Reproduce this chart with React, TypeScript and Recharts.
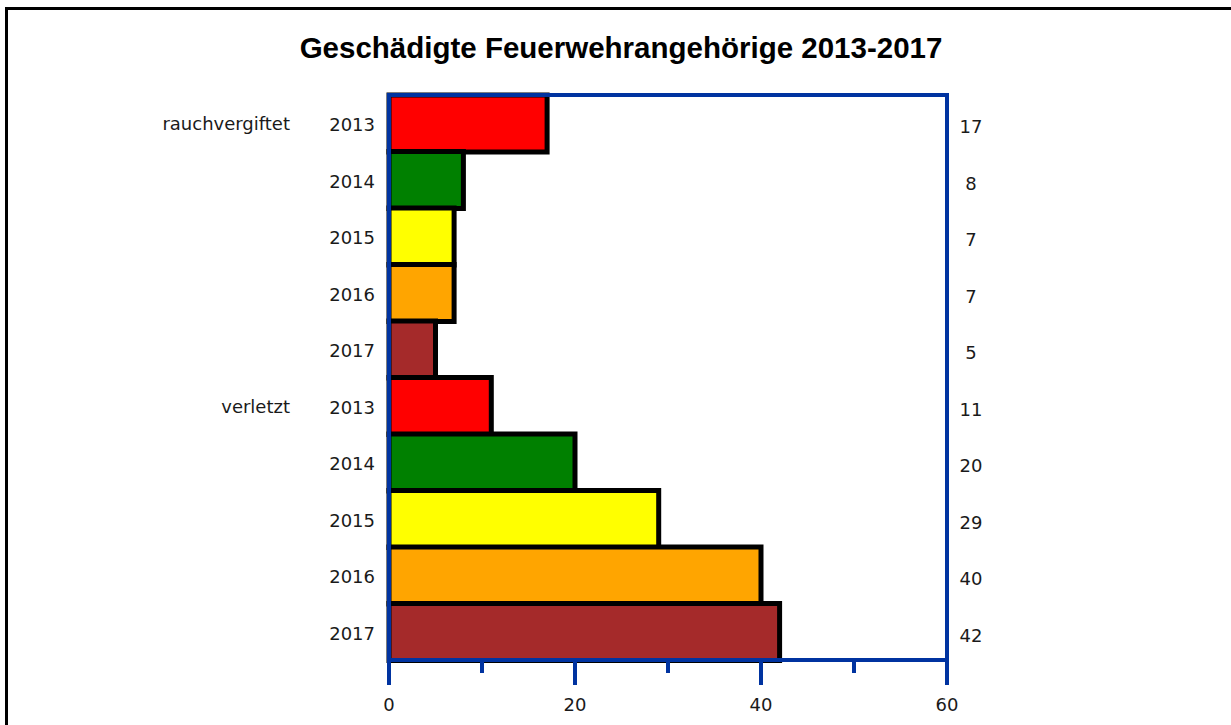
import { BarChart, Bar, XAxis, YAxis, Cell, ReferenceArea } from 'recharts'

const years = ['2013', '2014', '2015', '2016', '2017']
const groups = ['rauchvergiftet', 'verletzt']
const rauchvergiftet = [17, 8, 7, 7, 5]
const verletzt = [11, 20, 29, 40, 42]
const yearColors = ['#ff0000', '#008000', '#ffff00', '#ffa500', '#a52a2a']
const xTicks = [0, 10, 20, 30, 40, 50, 60]
const xLabels = [0, 20, 40, 60]

const BLUE = '#0033a0'
const FONT = '"DejaVu Sans", Verdana, sans-serif'
const TEXT = '#1a1a1a'

const rows = [rauchvergiftet, verletzt].flatMap((vals, g) =>
  vals.map((v, i) => ({
    key: `${groups[g]}-${years[i]}`,
    group: i === 0 ? groups[g] : '',
    year: years[i],
    value: v,
    color: yearColors[i],
  })),
)

const findRow = (key: string) => rows.find((r) => r.key === key)

function LeftTick({ x, y, payload }: { x?: number; y?: number; payload?: { value: string } }) {
  const row = findRow(payload?.value ?? '')
  if (!row || x == null || y == null) return null
  return (
    <g>
      {row.group && (
        <text x={x - 99} y={y + 7} textAnchor="end" fontFamily={FONT} fontSize={18} fill={TEXT}>
          {row.group}
        </text>
      )}
      <text x={x - 14} y={y + 8} textAnchor="end" fontFamily={FONT} fontSize={18} fill={TEXT}>
        {row.year}
      </text>
    </g>
  )
}

function RightTick({ x, y, payload }: { x?: number; y?: number; payload?: { value: string } }) {
  const row = findRow(payload?.value ?? '')
  if (!row || x == null || y == null) return null
  return (
    <text x={x + 24} y={y + 10} textAnchor="middle" fontFamily={FONT} fontSize={18} fill={TEXT}>
      {row.value}
    </text>
  )
}

function BottomTick({ x, y, payload }: { x?: number; y?: number; payload?: { value: number } }) {
  if (x == null || y == null || !payload) return null
  const major = xLabels.includes(payload.value)
  return (
    <g>
      <line x1={x} x2={x} y1={y} y2={y + (major ? 25 : 13)} stroke={BLUE} strokeWidth={4} />
      {major && (
        <text x={x} y={y + 51} textAnchor="middle" fontFamily={FONT} fontSize={18} fill={TEXT}>
          {payload.value}
        </text>
      )}
    </g>
  )
}

export default function App() {
  return (
    <div style={{ position: 'absolute', left: 0, top: 0, width: 1231, height: 725, background: '#fff', overflow: 'hidden' }}>
      <div
        style={{
          position: 'absolute', left: 5, top: 7, width: 1240, height: 730,
          borderTop: '3px solid #000', borderLeft: '3px solid #000',
        }}
      />
      <div
        style={{
          position: 'absolute', left: 0, top: 31, width: 1242, textAlign: 'center',
          fontFamily: '"Liberation Sans", Arial, sans-serif', fontWeight: 'bold', fontSize: 29.5, lineHeight: '33px', color: '#000',
        }}
      >
        Geschädigte Feuerwehrangehörige 2013-2017
      </div>
      <div style={{ position: 'absolute', left: 0, top: 0 }}>
        <BarChart
          width={1231}
          height={725}
          data={rows}
          layout="vertical"
          barCategoryGap={0}
          margin={{ top: 95, right: 224, bottom: 5, left: 9 }}
        >
          <Bar yAxisId="left" dataKey="value" stroke="#000" strokeWidth={5} isAnimationActive={false}>
            {rows.map((r) => (
              <Cell key={r.key} fill={r.color} />
            ))}
          </Bar>
          <ReferenceArea
            yAxisId="left"
            x1={0}
            x2={60}
            fill="none"
            stroke={BLUE}
            strokeWidth={4}
            ifOverflow="visible"
            zIndex={1000}
          />
          <XAxis
            type="number"
            domain={[0, 60]}
            ticks={xTicks}
            interval={0}
            height={60}
            axisLine={{ stroke: BLUE, strokeWidth: 4 }}
            tickLine={false}
            tickSize={0}
            tickMargin={0}
            tick={<BottomTick />}
          />
          <YAxis
            yAxisId="left"
            type="category"
            dataKey="key"
            width={380}
            interval={0}
            axisLine={{ stroke: BLUE, strokeWidth: 4 }}
            tickLine={false}
            tickSize={0}
            tickMargin={0}
            tick={<LeftTick />}
          />
          <YAxis
            yAxisId="right"
            orientation="right"
            type="category"
            dataKey="key"
            width={60}
            interval={0}
            axisLine={{ stroke: BLUE, strokeWidth: 4 }}
            tickLine={false}
            tickSize={0}
            tickMargin={0}
            tick={<RightTick />}
          />
        </BarChart>
      </div>
    </div>
  )
}
